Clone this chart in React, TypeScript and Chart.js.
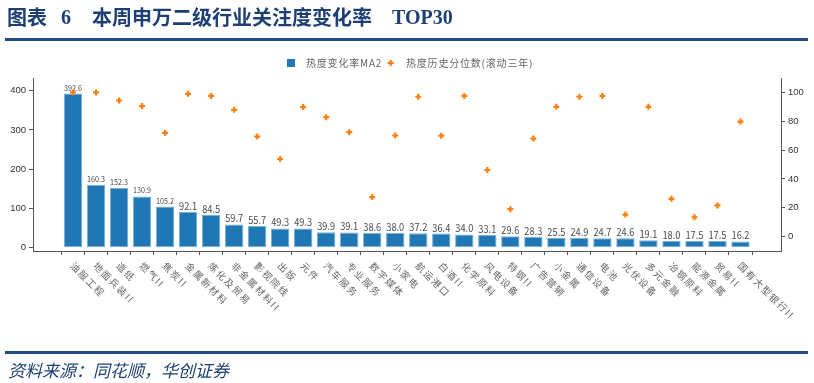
import React, { useEffect, useRef } from 'react';
import { Chart, registerables } from 'chart.js';

Chart.register(...registerables);

const categories = ['油服工程', '地面兵装II', '造纸', '燃气II', '焦炭II', '金属新材料', '炼化及贸易', '非金属材料II', '影视院线', '出版', '元件', '汽车服务', '专业服务', '数字媒体', '小家电', '航运港口', '白酒II', '化学原料', '风电设备', '特钢II', '广告营销', '小金属', '通信设备', '电池', '光伏设备', '多元金融', '冶钢原料', '能源金属', '贸易II', '国有大型银行II'];
const heatChangeMA2 = [392.6, 160.3, 152.3, 130.9, 105.2, 92.1, 84.5, 59.7, 55.7, 49.3, 49.3, 39.9, 39.1, 38.6, 38.0, 37.2, 36.4, 34.0, 33.1, 29.6, 28.3, 25.5, 24.9, 24.7, 24.6, 19.1, 18.0, 17.5, 17.5, 16.2];
const heatPercentile = [100, 100, 94.4, 90.5, 71.9, 99, 97.6, 87.9, 69.4, 53.8, 89.8, 82.8, 72.4, 27.4, 70.1, 97, 70, 97.6, 46.2, 19, 68, 90, 97, 97.6, 15.3, 90, 26.2, 13.4, 21.6, 79.8];
const leftTicks = [0, 100, 200, 300, 400];
const rightTicks = [0, 20, 40, 60, 80, 100];
const seriesNames = ['热度变化率MA2', '热度历史分位数(滚动三年)'];

const BLUE = '#1f77b4';
const ORANGE = '#ff7f0e';
const NAVY = '#1c3f74';
const CJK = '"Noto Sans CJK SC", "Noto Sans", sans-serif';

function drawPlus(c: CanvasRenderingContext2D, x: number, y: number) {
  c.save();
  c.fillStyle = ORANGE;
  c.fillRect(x - 3, y - 1.1, 6, 2.2);
  c.fillRect(x - 1.1, y - 3, 2.2, 6);
  c.restore();
}

export default function App() {
  const ref = useRef<HTMLCanvasElement>(null);

  useEffect(() => {
    document.body.style.margin = '0';
    const canvas = ref.current!;

    const custom = {
      id: 'customDraw',
      afterDatasetDraw(chart: any, args: any) {
        if (args.index !== 0) return;
        const c = chart.ctx as CanvasRenderingContext2D;
        const meta = chart.getDatasetMeta(0);
        meta.data.forEach((bar: any, i: number) => {
          const txt = heatChangeMA2[i].toFixed(1);
          const fs = txt.length > 4 ? 8 : 10.5;
          c.save();
          c.font = `${fs}px ${CJK}`;
          const w = c.measureText(txt).width;
          const sx = Math.min(1, 18 / w);
          c.translate(bar.x, bar.y - 6);
          c.scale(sx, 1);
          c.textAlign = 'center';
          c.textBaseline = 'middle';
          c.fillStyle = '#4a4a4a';
          c.fillText(txt, 0, 0);
          c.restore();
        });
      },
      afterDraw(chart: any) {
        const c = chart.ctx as CanvasRenderingContext2D;
        const xs = chart.scales.x;
        categories.forEach((lab, i) => {
          const px = xs.getPixelForValue(i);
          c.save();
          c.translate(px - 1, 264);
          c.rotate(Math.PI / 4);
          c.font = `9.5px ${CJK}`;
          (c as any).letterSpacing = '1.6px';
          c.fillStyle = '#666';
          c.textAlign = 'left';
          c.textBaseline = 'middle';
          c.fillText(lab, 0, 0);
          c.restore();
        });
        c.save();
        c.fillStyle = BLUE;
        c.fillRect(287, 59, 8, 8);
        drawPlus(c, 390.7, 63);
        c.font = `10px ${CJK}`;
        (c as any).letterSpacing = '0.8px';
        c.fillStyle = '#666';
        c.textAlign = 'left';
        c.textBaseline = 'middle';
        c.fillText(seriesNames[0], 306, 63);
        c.fillText(seriesNames[1], 406, 63);
        c.restore();
      },
    };

    const tickFont = { family: '"Liberation Sans", Arial, sans-serif', size: 9.5 };
    const axisColor = '#555';

    const chart = new Chart(canvas, {
      type: 'bar',
      data: {
        datasets: [
          {
            type: 'bar',
            label: seriesNames[0],
            data: heatChangeMA2.map((v, i) => ({ x: i, y: v })),
            backgroundColor: BLUE,
            borderColor: '#7ab0dc',
            borderWidth: 1,
            borderSkipped: false,
            categoryPercentage: 1,
            barPercentage: 0.8,
            xAxisID: 'x',
            yAxisID: 'y',
            order: 1,
          } as any,
          {
            type: 'scatter',
            label: seriesNames[1],
            data: heatPercentile.map((v, i) => ({ x: i, y: v })),
            pointStyle: 'cross',
            pointRadius: 3,
            pointBorderWidth: 2.2,
            pointBorderColor: ORANGE,
            pointBackgroundColor: ORANGE,
            xAxisID: 'x',
            yAxisID: 'y1',
            order: 0,
          } as any,
        ],
      },
      options: {
        animation: false,
        responsive: false,
        layout: { padding: { top: 78, left: 0, right: 0, bottom: 0 } },
        plugins: { legend: { display: false }, tooltip: { enabled: false } },
        scales: {
          x: {
            type: 'linear',
            min: -1.74,
            max: 30.76,
            offset: false,
            afterBuildTicks: (s: any) => { s.ticks = categories.map((_, i) => ({ value: i })); },
            afterFit: (s: any) => { s.height = 132; },
            ticks: { display: false },
            grid: { display: true, drawOnChartArea: false, drawTicks: true, tickLength: 4, tickColor: axisColor, lineWidth: 1 },
            border: { display: true, color: axisColor, width: 1 },
          },
          y: {
            position: 'left',
            min: -8,
            max: 432,
            afterBuildTicks: (s: any) => { s.ticks = leftTicks.map((v) => ({ value: v })); },
            afterFit: (s: any) => { s.width = 33; },
            ticks: { font: tickFont, color: '#333', padding: 3 },
            grid: { display: true, drawOnChartArea: false, drawTicks: true, tickLength: 4, tickColor: axisColor },
            border: { display: true, color: axisColor, width: 1 },
          },
          y1: {
            position: 'right',
            min: -10,
            max: 110,
            afterBuildTicks: (s: any) => { s.ticks = rightTicks.map((v) => ({ value: v })); },
            afterFit: (s: any) => { s.width = 33; },
            ticks: { font: tickFont, color: '#333', padding: 3 },
            grid: { display: true, drawOnChartArea: false, drawTicks: true, tickLength: 4, tickColor: axisColor },
            border: { display: true, color: axisColor, width: 1 },
          },
        },
      } as any,
      plugins: [custom],
    });
    return () => chart.destroy();
  }, []);

  const titleCjk: React.CSSProperties = {
    position: 'absolute', top: 6, fontFamily: CJK, fontWeight: 700, fontSize: 20, lineHeight: '22px', color: NAVY, whiteSpace: 'nowrap',
  };
  const titleSerif: React.CSSProperties = {
    position: 'absolute', top: 6, fontFamily: '"Liberation Serif", "DejaVu Serif", serif', fontWeight: 700, fontSize: 20, lineHeight: '22px', color: NAVY, whiteSpace: 'nowrap',
  };

  return (
    <div style={{ position: 'relative', width: 814, height: 383, overflow: 'hidden', background: '#fff' }}>
      <canvas ref={ref} width={814} height={383} style={{ position: 'absolute', left: 0, top: 0, width: 814, height: 383 }} />
      <div style={{ ...titleCjk, left: 7 }}>图表</div>
      <div style={{ ...titleSerif, left: 61 }}>6</div>
      <div style={{ ...titleCjk, left: 92 }}>本周申万二级行业关注度变化率</div>
      <div style={{ ...titleSerif, left: 392 }}>TOP30</div>
      <div style={{ position: 'absolute', left: 5, top: 38, width: 803, height: 2.5, background: '#1f4b86' }} />
      <div style={{ position: 'absolute', left: 5, top: 351, width: 803, height: 2.5, background: '#1f4b86' }} />
      <div style={{ position: 'absolute', left: 8, top: 359, fontFamily: CJK, fontStyle: 'italic', fontSize: 17, lineHeight: '22px', color: NAVY, whiteSpace: 'nowrap' }}>资料来源：同花顺，华创证券</div>
    </div>
  );
}
